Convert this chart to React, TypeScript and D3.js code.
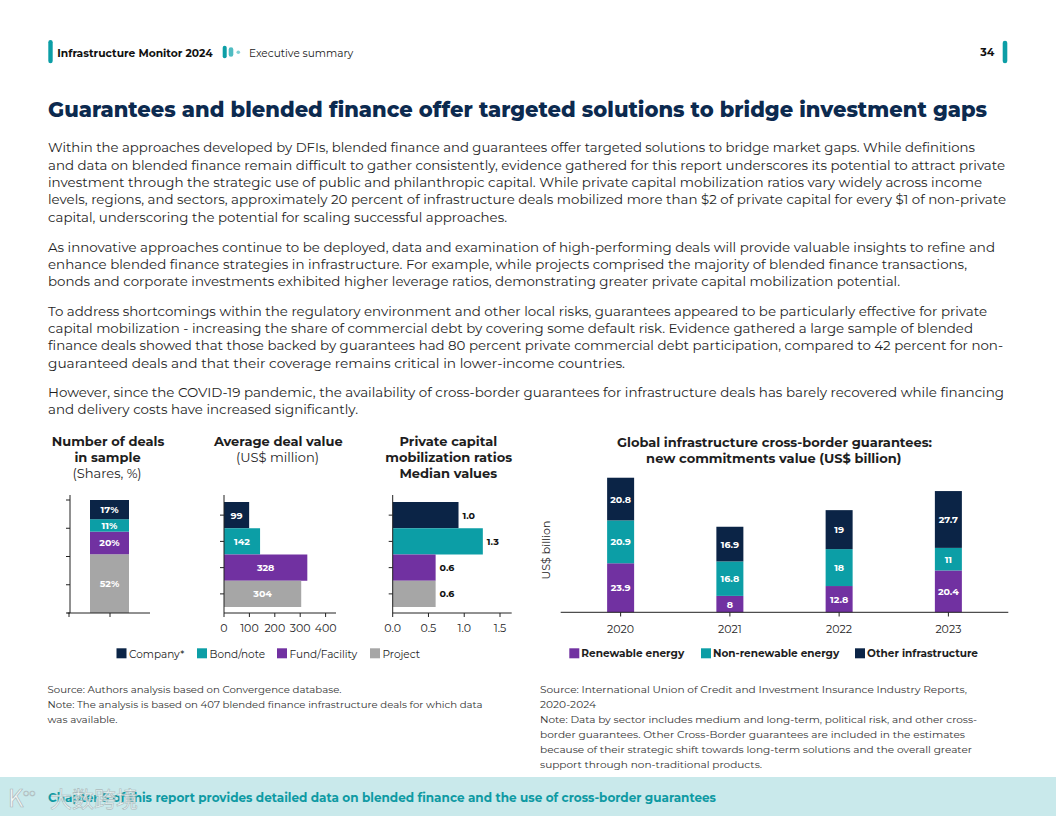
import React from "react";
import * as d3 from "d3";

// ---------- data ----------
const dealCategories = ["Company*", "Bond/note", "Fund/Facility", "Project"];
const dealShares = [17, 11, 20, 52];
const avgDealValue = [99, 142, 328, 304];
const mobilizationRatios = [0.92, 1.26, 0.6, 0.6];
const mobilizationLabels = ["1.0", "1.3", "0.6", "0.6"];
const shareTicks = [0, 25, 50, 75, 100];
const valueTicks = [0, 100, 200, 300, 400];
const ratioTicks = [0, 0.5, 1.0, 1.5];

const years = ["2020", "2021", "2022", "2023"];
const renewableEnergy = [23.9, 8, 12.8, 20.4];
const nonRenewableEnergy = [20.9, 16.8, 18, 11];
const otherInfrastructure = [20.8, 16.9, 19, 27.7];
const guaranteeSeries = ["Renewable energy", "Non-renewable energy", "Other infrastructure"];

// ---------- text ----------
const paragraphs = [
  [
    "Within the approaches developed by DFIs, blended finance and guarantees offer targeted solutions to bridge market gaps. While definitions",
    "and data on blended finance remain difficult to gather consistently, evidence gathered for this report underscores its potential to attract private",
    "investment through the strategic use of public and philanthropic capital. While private capital mobilization ratios vary widely across income",
    "levels, regions, and sectors, approximately 20 percent of infrastructure deals mobilized more than $2 of private capital for every $1 of non-private",
    "capital, underscoring the potential for scaling successful approaches.",
  ],
  [
    "As innovative approaches continue to be deployed, data and examination of high-performing deals will provide valuable insights to refine and",
    "enhance blended finance strategies in infrastructure. For example, while projects comprised the majority of blended finance transactions,",
    "bonds and corporate investments exhibited higher leverage ratios, demonstrating greater private capital mobilization potential.",
  ],
  [
    "To address shortcomings within the regulatory environment and other local risks, guarantees appeared to be particularly effective for private",
    "capital mobilization - increasing the share of commercial debt by covering some default risk. Evidence gathered a large sample of blended",
    "finance deals showed that those backed by guarantees had 80 percent private commercial debt participation, compared to 42 percent for non-",
    "guaranteed deals and that their coverage remains critical in lower-income countries.",
  ],
  [
    "However, since the COVID-19 pandemic, the availability of cross-border guarantees for infrastructure deals has barely recovered while financing",
    "and delivery costs have increased significantly.",
  ],
];
const paragraphLineWidths = [
  [927, 957, 934, 958, 459],
  [947, 919, 852],
  [939, 925, 955, 577],
  [956, 310],
];
const paragraphTops = [152.3, 251.7, 315.7, 397];

const leftNotes = [
  "Source: Authors analysis based on Convergence database.",
  "Note: The analysis is based on 407 blended finance infrastructure deals for which data",
  "was available.",
];
const leftNoteWidths = [294, 435, 70];
const rightNotes = [
  "Source: International Union of Credit and Investment Insurance Industry Reports,",
  "2020-2024",
  "Note: Data by sector includes medium and long-term, political risk, and other cross-",
  "border guarantees. Other Cross-Border guarantees are included in the estimates",
  "because of their strategic shift towards long-term solutions and the overall greater",
  "support through non-traditional products.",
];
const rightNoteWidths = [427, 56, 437, 425, 432, 222];

// ---------- style ----------
const NAVY = "#0b2446";
const TEAL = "#0c9ea6";
const PURPLE = "#7131a1";
const GRAY = "#a6a6a6";
const TITLE = "#0c2a4f";
const INK = "#1e1e1e";
const FONT = "Montserrat, 'Open Sans', 'Noto Sans', sans-serif";
const dealColors = [NAVY, TEAL, PURPLE, GRAY];
const guaranteeColors = [PURPLE, TEAL, NAVY];

function FitText(props: any) {
  const { w, children, adjust, ...rest } = props;
  return (
    <text textLength={w} lengthAdjust={adjust || "spacingAndGlyphs"} {...rest}>
      {children}
    </text>
  );
}

export default function App() {
  // Chart 1: shares stacked
  const y1 = d3.scaleLinear().domain([0, 100]).range([613, 500]);
  const shareRow = [Object.fromEntries(dealCategories.map((c, i) => [c, dealShares[i]]))];
  const shareStack = d3.stack<any>().keys([...dealCategories].reverse())(shareRow as any);

  // Chart 2 & 3: horizontal bars
  const yBand = d3.scaleBand<string>().domain(dealCategories).range([502, 607]).paddingInner(0);
  const x2 = d3.scaleLinear().domain([0, 400]).range([224, 325.6]);
  const x3 = d3.scaleLinear().domain([0, 1.5]).range([392.7, 500]);

  // Chart 4: stacked guarantees
  const xg = d3.scalePoint<string>().domain(years).range([566, 1003]).padding(0.5);
  const yg = d3.scaleLinear().domain([0, 70]).range([612.3, 468.7]);
  const gRows = years.map((yr, i) => ({
    year: yr,
    [guaranteeSeries[0]]: renewableEnergy[i],
    [guaranteeSeries[1]]: nonRenewableEnergy[i],
    [guaranteeSeries[2]]: otherInfrastructure[i],
  }));
  const gStack = d3.stack<any>().keys(guaranteeSeries)(gRows as any);
  const gValues = [renewableEnergy, nonRenewableEnergy, otherInfrastructure];
  const gBarW = 27;

  const axisStroke = "#222";

  return (
    <svg
      width={1056}
      height={816}
      viewBox="0 0 1056 816"
      style={{ position: "absolute", left: 0, top: 0, background: "#fff" }}
      fontFamily={FONT}
    >
      <rect x={0} y={0} width={1056} height={816} fill="#fff" />

      {/* header */}
      <rect x={48.3} y={40} width={4.4} height={23.3} rx={2.2} fill={TEAL} />
      <FitText x={57.3} y={56.5} w={155.4} fontSize={11} fontWeight={700} fill="#111">
        Infrastructure Monitor 2024
      </FitText>
      <rect x={222.7} y={45.7} width={4} height={12.6} rx={2} fill={TEAL} />
      <rect x={228.7} y={47.3} width={4.6} height={9.4} rx={2.3} fill="#4fbcc2" />
      <circle cx={238.3} cy={52.3} r={1.8} fill="#7fd0d4" />
      <FitText x={249} y={56.5} w={104.3} fontSize={11} fill="#222">
        Executive summary
      </FitText>
      <text x={994.3} y={56.2} fontSize={11} fontWeight={700} fill="#111" textAnchor="end">
        34
      </text>
      <rect x={1002.7} y={40.7} width={4.6} height={22.6} rx={2.3} fill={TEAL} />

      {/* title */}
      <FitText x={48} y={116.8} w={939} fontSize={22} fontWeight={800} fill={TITLE}>
        Guarantees and blended finance offer targeted solutions to bridge investment gaps
      </FitText>

      {/* paragraphs */}
      {paragraphs.map((lines, pi) =>
        lines.map((line, li) => (
          <FitText
            key={`p${pi}-${li}`}
            x={48}
            y={paragraphTops[pi] + li * 17.35}
            w={paragraphLineWidths[pi][li]}
            fontSize={13}
            fill="#1f1f1f"
          >
            {line}
          </FitText>
        ))
      )}

      {/* ===== Chart 1: Number of deals ===== */}
      <g fill={INK} fontWeight={700} fontSize={13} textAnchor="middle">
        <text x={108} y={446}>Number of deals</text>
        <text x={107.5} y={462}>in sample</text>
        <text x={107} y={477.7} fontWeight={400}>(Shares, %)</text>
      </g>
      {shareStack.map((s: any) => {
        const idx = dealCategories.indexOf(s.key);
        const d = s[0];
        const top = y1(d[1]);
        const bot = y1(d[0]);
        return (
          <g key={s.key}>
            <rect x={90} y={top} width={39} height={bot - top} fill={dealColors[idx]} />
            <text
              x={109.5}
              y={(top + bot) / 2 + 3.5}
              fill="#fff"
              fontSize={9.5}
              fontWeight={700}
              textAnchor="middle"
            >
              {dealShares[idx]}%
            </text>
          </g>
        );
      })}
      <line x1={70} x2={70} y1={495} y2={613} stroke={axisStroke} />
      <line x1={67.5} x2={150} y1={613} y2={613} stroke={axisStroke} />
      {shareTicks.map((t) => (
        <line key={t} x1={66} x2={70} y1={y1(t)} y2={y1(t)} stroke={axisStroke} />
      ))}
      <line x1={69} x2={69} y1={613} y2={617} stroke={axisStroke} />
      <line x1={110} x2={110} y1={613} y2={617} stroke={axisStroke} />

      {/* ===== Chart 2: Average deal value ===== */}
      <g fill={INK} fontSize={13} textAnchor="middle">
        <text x={278.3} y={446} fontWeight={700}>Average deal value</text>
        <text x={277.5} y={462}>(US$ million)</text>
      </g>
      {dealCategories.map((c, i) => (
        <g key={c}>
          <rect
            x={x2(0)}
            y={yBand(c)!}
            width={x2(avgDealValue[i]) - x2(0)}
            height={yBand.bandwidth()}
            fill={dealColors[i]}
          />
          <text
            x={(x2(0) + x2(avgDealValue[i])) / 2}
            y={yBand(c)! + yBand.bandwidth() / 2 + 3.5}
            fill="#fff"
            fontSize={9.5}
            fontWeight={700}
            textAnchor="middle"
          >
            {avgDealValue[i]}
          </text>
          <line
            x1={x2(0) - 4}
            x2={x2(0)}
            y1={yBand(c)! + yBand.bandwidth() / 2}
            y2={yBand(c)! + yBand.bandwidth() / 2}
            stroke={axisStroke}
          />
        </g>
      ))}
      <line x1={x2(0)} x2={x2(0)} y1={495} y2={613} stroke={axisStroke} />
      <line x1={x2(0)} x2={336} y1={613} y2={613} stroke={axisStroke} />
      {valueTicks.map((t) => (
        <g key={t}>
          <line x1={x2(t)} x2={x2(t)} y1={613} y2={617} stroke={axisStroke} />
          <text x={x2(t)} y={632} fontSize={11} fill={INK} textAnchor="middle">
            {t}
          </text>
        </g>
      ))}

      {/* ===== Chart 3: Private capital mobilization ratios ===== */}
      <g fill={INK} fontSize={13} fontWeight={700} textAnchor="middle">
        <text x={448.3} y={446}>Private capital</text>
        <text x={448.7} y={462}>mobilization ratios</text>
        <text x={448.3} y={477.7}>Median values</text>
      </g>
      {dealCategories.map((c, i) => (
        <g key={c}>
          <rect
            x={x3(0)}
            y={yBand(c)!}
            width={x3(mobilizationRatios[i]) - x3(0)}
            height={yBand.bandwidth()}
            fill={dealColors[i]}
          />
          <text
            x={x3(mobilizationRatios[i]) + 4}
            y={yBand(c)! + yBand.bandwidth() / 2 + 3.5}
            fill="#111"
            fontSize={9.5}
            fontWeight={700}
          >
            {mobilizationLabels[i]}
          </text>
          <line
            x1={x3(0) - 4}
            x2={x3(0)}
            y1={yBand(c)! + yBand.bandwidth() / 2}
            y2={yBand(c)! + yBand.bandwidth() / 2}
            stroke={axisStroke}
          />
        </g>
      ))}
      <line x1={x3(0)} x2={x3(0)} y1={495} y2={613} stroke={axisStroke} />
      <line x1={x3(0)} x2={511.7} y1={613} y2={613} stroke={axisStroke} />
      {ratioTicks.map((t) => (
        <g key={t}>
          <line x1={x3(t)} x2={x3(t)} y1={613} y2={617} stroke={axisStroke} />
          <text x={x3(t)} y={632} fontSize={11} fill={INK} textAnchor="middle">
            {t.toFixed(1)}
          </text>
        </g>
      ))}

      {/* left legend */}
      {dealCategories.map((c, i) => {
        const sx = [116.5, 197, 277, 370][i];
        return (
          <g key={c}>
            <rect x={sx} y={648.3} width={10} height={10} fill={dealColors[i]} />
            <text x={sx + 12.5} y={657.7} fontSize={10.5} fill={INK}>
              {c}
            </text>
          </g>
        );
      })}

      {/* ===== Chart 4: Guarantees ===== */}
      <g fill={INK} fontSize={13} fontWeight={700} textAnchor="middle">
        <text x={774.5} y={446.7}>Global infrastructure cross-border guarantees:</text>
        <text x={773.7} y={462.7}>new commitments value (US$ billion)</text>
      </g>
      <text
        transform={`translate(550,550) rotate(-90)`}
        fontSize={11}
        fill={INK}
        textAnchor="middle"
      >
        US$ billion
      </text>
      {gStack.map((s: any, si: number) =>
        s.map((d: any, i: number) => {
          const top = yg(d[1]);
          const bot = yg(d[0]);
          const cx = xg(years[i])!;
          return (
            <g key={`${s.key}-${i}`}>
              <rect x={cx - gBarW / 2} y={top} width={gBarW} height={bot - top} fill={guaranteeColors[si]} />
              <text
                x={cx}
                y={(top + bot) / 2 + 3.5}
                fill="#fff"
                fontSize={9.5}
                fontWeight={700}
                textAnchor="middle"
              >
                {String(gValues[si][i])}
              </text>
            </g>
          );
        })
      )}
      <line x1={560.7} x2={1008.3} y1={612.3} y2={612.3} stroke={axisStroke} />
      {years.map((yr) => (
        <g key={yr}>
          <line x1={xg(yr)!} x2={xg(yr)!} y1={612.3} y2={616.5} stroke={axisStroke} />
          <text x={xg(yr)!} y={632.7} fontSize={11} fill={INK} textAnchor="middle">
            {yr}
          </text>
        </g>
      ))}
      {guaranteeSeries.map((s, i) => {
        const sx = [569.3, 701, 855][i];
        return (
          <g key={s}>
            <rect x={sx} y={648.3} width={10} height={10} fill={guaranteeColors[i]} />
            <text x={sx + 12} y={657.2} fontSize={10.5} fontWeight={700} fill={INK}>
              {s}
            </text>
          </g>
        );
      })}

      {/* footnotes */}
      {leftNotes.map((t, i) => (
        <FitText key={t} x={47.5} y={692.7 + i * 15} w={leftNoteWidths[i]} fontSize={10} fill="#333">
          {t}
        </FitText>
      ))}
      {rightNotes.map((t, i) => (
        <FitText key={t} x={540} y={692.5 + i * 15} w={rightNoteWidths[i]} fontSize={10} fill="#333">
          {t}
        </FitText>
      ))}

      {/* bottom band */}
      <rect x={0} y={777} width={1056} height={39} fill="#c9e9eb" />
      <FitText x={48} y={801.7} w={668} fontSize={12.5} fontWeight={700} fill="#0e9aa3">
        Chapter 5 of this report provides detailed data on blended finance and the use of cross-border guarantees
      </FitText>
      {/* watermark */}
      <g>
        <text x={8} y={807} fontSize={24} fill="#f4f8f8" stroke="#a9b9bb" strokeWidth={0.7} fontFamily="'Noto Sans CJK SC', sans-serif">
          K
        </text>
        <text x={23} y={796} fontSize={10} fill="#f4f8f8" stroke="#a9b9bb" strokeWidth={0.5}>
          oo
        </text>
        <text x={50} y={807} fontSize={22} fill="#f4f8f8" fillOpacity={0.8} stroke="#a9b9bb" strokeWidth={0.6} fontFamily="'Noto Sans CJK SC', sans-serif">
          大数跨境
        </text>
      </g>
    </svg>
  );
}
